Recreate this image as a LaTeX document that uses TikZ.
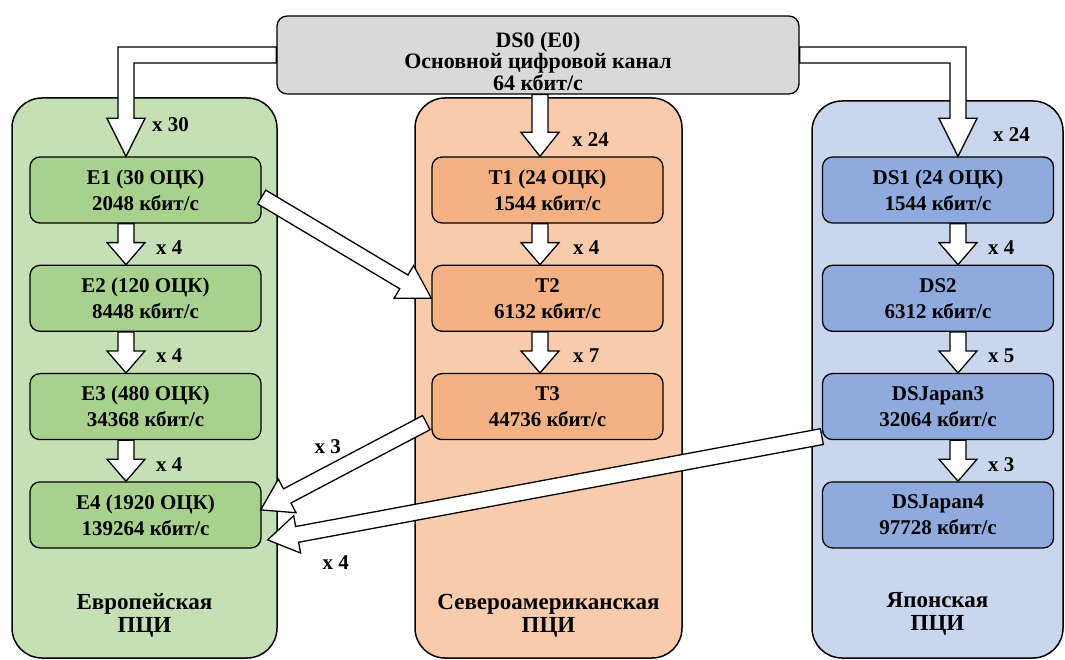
\documentclass[tikz,border=0pt]{standalone}
\usepackage{fontspec}
\setmainfont{Liberation Serif}
\usepackage{tikz}
\usetikzlibrary{positioning,calc}
\definecolor{eurback}{HTML}{C5E0B4}
\definecolor{eurbox}{HTML}{A9D18E}
\definecolor{namback}{HTML}{F8CBAD}
\definecolor{nambox}{HTML}{F4B183}
\definecolor{japback}{HTML}{C9D6EE}
\definecolor{japbox}{HTML}{8FAADC}
\definecolor{dsgrey}{HTML}{D9D9D9}
\newcommand{\shw}{8pt}
\newcommand{\hhw}{19pt}
% straight block arrow: from, to, head length
\newcommand{\blockarrow}[3]{%
  \coordinate (ba) at ($(#2)!#3!(#1)$);
  \draw[barrow] ($(#1)!\shw!90:(#2)$) -- ($(ba)!\shw!90:(#2)$) -- ($(ba)!\hhw!90:(#2)$) -- (#2)
    -- ($(ba)!\hhw!-90:(#2)$) -- ($(ba)!\shw!-90:(#2)$) -- ($(#1)!\shw!-90:(#2)$) -- cycle;}
% bent block arrow: from (side), to (top of box), direction -1 / 1
\newcommand{\bentarrow}[3]{%
  \draw[barrow] ($(#1)+(0pt,\shw)$) -- ($(#2 |- #1)+({(#3)*\shw},\shw)$) -- ($(#2)+({(#3)*\shw},38pt)$)
    -- ($(#2)+({(#3)*\hhw},38pt)$) -- (#2) -- ($(#2)+({-(#3)*\hhw},38pt)$) -- ($(#2)+({-(#3)*\shw},38pt)$)
    -- ($(#2 |- #1)+({-(#3)*\shw},-\shw)$) -- ($(#1)+(0pt,-\shw)$) -- cycle;}

\begin{document}
\begin{tikzpicture}[x=1pt,y=1pt,node distance=41pt]
    \tikzstyle{hier}=[draw,line width=1.5pt,rounded corners=30pt,minimum width=265pt,minimum height=560pt]
    \tikzstyle{stage}=[draw,line width=1.3pt,rounded corners=10pt,minimum width=231pt,minimum height=66pt,align=center,font=\fontsize{21}{26}\selectfont\bfseries]
    \tikzstyle{mult}=[anchor=west,inner sep=0pt,font=\fontsize{21}{24}\selectfont\bfseries]
    \tikzstyle{colname}=[align=center,font=\fontsize{23}{23}\selectfont\bfseries]
    \tikzstyle{barrow}=[draw=black,fill=white,line width=1.3pt]
    \useasboundingbox (0,0) rectangle (1065,659);
    % three hierarchies
    \node[hier,fill=eurback] (eur) at (144.5,281) {};
    \node[hier,fill=namback,minimum width=267pt] (nam) at (548.5,281) {};
    \node[hier,fill=japback,minimum width=251pt,minimum height=557pt] (jap) at (937.5,279.5) {};
    \node[colname] (eurname) at ($(eur.south)+(0,43)$) {Европейская\\ПЦИ};
    \node[colname] (namname) at ($(nam.south)+(0,43)$) {Североамериканская\\ПЦИ};
    \node[colname] (japname) at ($(jap.south)+(0,45)$) {Японская\\ПЦИ};
    % top channel
    \node[stage,fill=dsgrey,minimum width=522pt,minimum height=76pt,font=\fontsize{22}{21.5}\selectfont\bfseries] (DS0) at (538,604) {\rule{0pt}{28pt}DS0 (E0)\\Основной цифровой канал\\64 кбит/с};
    % european
    \node[stage,fill=eurbox] (E1) at (145.5,469) {E1 (30 ОЦК)\\2048 кбит/с};
    \node[stage,fill=eurbox,below=of E1] (E2) {E2 (120 ОЦК)\\8448 кбит/с};
    \node[stage,fill=eurbox,below=of E2] (E3) {E3 (480 ОЦК)\\34368 кбит/с};
    \node[stage,fill=eurbox,below=of E3] (E4) {E4 (1920 ОЦК)\\139264 кбит/с};
    % north american
    \node[stage,fill=nambox] (T1) at (547.5,469) {T1 (24 ОЦК)\\1544 кбит/с};
    \node[stage,fill=nambox,below=of T1] (T2) {T2\\6132 кбит/с};
    \node[stage,fill=nambox,below=of T2] (T3) {T3\\44736 кбит/с};
    % japanese
    \node[stage,fill=japbox] (DS1) at (938,469) {DS1 (24 ОЦК)\\1544 кбит/с};
    \node[stage,fill=japbox,below=of DS1] (DS2) {DS2\\6312 кбит/с};
    \node[stage,fill=japbox,below=of DS2] (DSJ3) {DSJapan3\\32064 кбит/с};
    \node[stage,fill=japbox,below=of DSJ3] (DSJ4) {DSJapan4\\97728 кбит/с};
    % arrows
    \coordinate (gx) at (126,0);
    \coordinate (ox) at (540,0);
    \coordinate (jx) at (958,0);
    \coordinate (gin) at (E1.north -| gx);
    \coordinate (jin) at (DS1.north -| jx);
    \bentarrow{DS0.west}{gin}{-1}
    \bentarrow{DS0.east}{jin}{1}
    \blockarrow{DS0.south -| ox}{T1.north -| ox}{24pt}
    \node[mult] at ($(gin)+(26,32)$) {x 30};
    \node[mult] at ($(T1.north -| ox)+(32,17)$) {x 24};
    \node[mult] at ($(jin)+(35,22)$) {x 24};
    \foreach \a/\b/\m in {E1/E2/4,E2/E3/4,E3/E4/4} {
        \blockarrow{\a.south -| gx}{\b.north -| gx}{22pt}
        \node[mult] at ($(\a.south -| gx)+(30,-24)$) {x \m};
    }
    \foreach \a/\b/\m in {T1/T2/4,T2/T3/7} {
        \blockarrow{\a.south -| ox}{\b.north -| ox}{22pt}
        \node[mult] at ($(\a.south -| ox)+(33,-24)$) {x \m};
    }
    \foreach \a/\b/\m in {DS1/DS2/4,DS2/DSJ3/5,DSJ3/DSJ4/3} {
        \blockarrow{\a.south -| jx}{\b.north -| jx}{22pt}
        \node[mult] at ($(\a.south -| jx)+(30,-24)$) {x \m};
    }
    % cross links
    \coordinate (e1out) at ($(E1.east)+(0,-7)$);
    \blockarrow{e1out}{T2.west}{32pt}
    \coordinate (t3out) at ($(T3.west)+(-5,-16)$);
    \coordinate (e4in) at ($(E4.east)+(-1,5)$);
    \blockarrow{t3out}{e4in}{30pt}
    \coordinate (j3out) at ($(DSJ3.west)+(0,-30)$);
    \coordinate (e4low) at ($(E4.east)+(6,-25)$);
    \blockarrow{j3out}{e4low}{30pt}
    \node[mult,anchor=center] at ($(e4in)+(67,63)$) {x 3};
    \node[mult,anchor=center] at ($(e4low)+(68,-23)$) {x 4};
\end{tikzpicture}
\end{document}
